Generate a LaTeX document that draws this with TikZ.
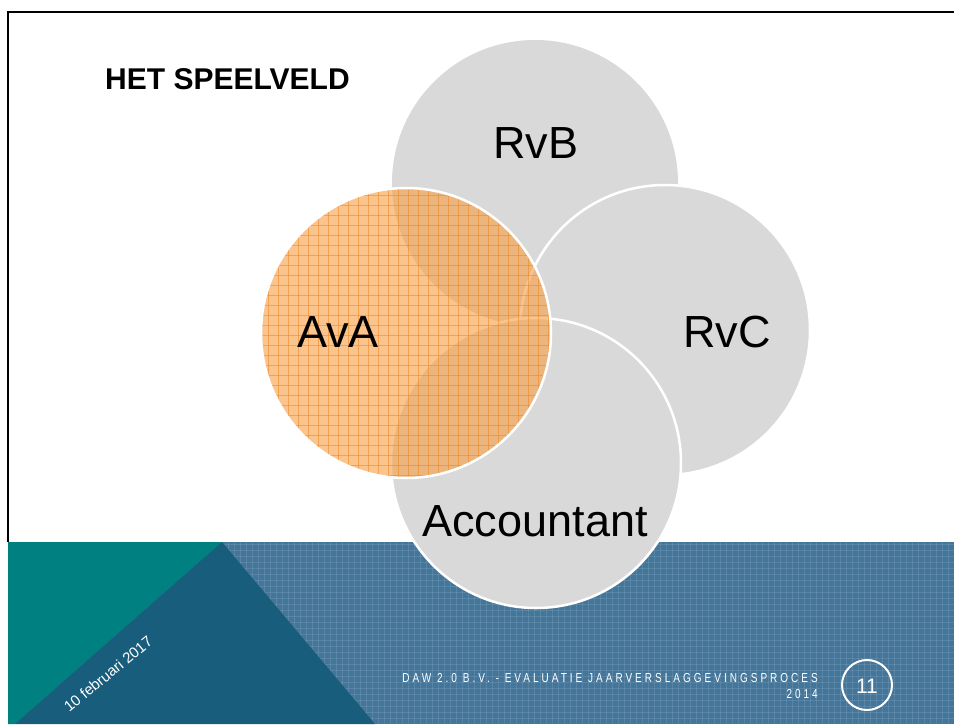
\documentclass[tikz,border=0pt]{standalone}
\usepackage{fontspec}
\setmainfont{Liberation Sans}
\definecolor{teal1}{RGB}{0,128,128}
\definecolor{dblue}{RGB}{24,94,124}
\definecolor{lblue}{RGB}{68,118,154}
\definecolor{cgray}{RGB}{217,217,217}
\definecolor{orfill}{RGB}{248,160,70}
\definecolor{orline}{RGB}{240,135,30}
\tikzset{
  circ/.style={fill=cgray, draw=white, line width=2.5pt},
  lab/.style={anchor=base, font=\fontsize{45}{54}\selectfont, text=black, inner sep=0pt},
  foot/.style={text=white, inner sep=0pt},
}
\newcommand{\foottxt}[1]{\scalebox{0.77}[1]{\fontsize{13}{16}\selectfont\addfontfeatures{LetterSpace=30}#1}}
\begin{document}
\begin{tikzpicture}[x=1pt,y=-1pt]
\useasboundingbox (0,0) rectangle (954,724);
\fill[white] (0,0) rectangle (954,724);
% frame
\draw[black, line width=2pt] (8,542) -- (8,12) -- (954,12);
% band
\fill[lblue] (8,542) rectangle (954,724);
\begin{scope}
  \clip (222,542) -- (954,542) -- (954,724) -- (375,724) -- cycle;
  \foreach \i in {0,...,124} {
    \draw[white, opacity=0.10, line width=0.6pt] (222+6*\i,542) -- (222+6*\i,724);
  }
  \foreach \i in {0,...,31} {
    \draw[white, opacity=0.10, line width=0.6pt] (222,544+6*\i) -- (954,544+6*\i);
  }
\end{scope}
\fill[teal1] (8,542) -- (222,542) -- (15,724) -- (8,724) -- cycle;
\fill[dblue] (222,542) -- (375,724) -- (15,724) -- cycle;
% circles
\fill[cgray] (535,183) circle (143);
\draw[circ] (665,330) circle (145);
\draw[circ] (536,463) circle (145);
\fill[orfill, opacity=0.62] (406,333) circle (145);
\begin{scope}
  \clip (406,333) circle (145);
  \foreach \i in {0,...,31} {
    \draw[orline, opacity=0.55, line width=0.8pt] (258+10*\i,180) -- (258+10*\i,490);
    \draw[orline, opacity=0.55, line width=0.8pt] (250,185+10*\i) -- (560,185+10*\i);
  }
\end{scope}
\draw[white, line width=2.5pt] (406,333) circle (145);
% labels
\node[lab] (rvb) at (536,158) {RvB};
\node[lab] (ava) at (338,347) {AvA};
\node[lab] (rvc) at (727,347) {RvC};
\node[lab] (acc) at (535,536) {Accountant};
\node[anchor=base west, inner sep=0pt, font=\bfseries\fontsize{30}{36}\selectfont] (title) at (105,89) {HET SPEELVELD};
% footer
\node[foot, anchor=base east] (f1) at (818,682) {\foottxt{DAW 2.0 B.V. - EVALUATIE JAARVERSLAGGEVINGSPROCES}};
\node[foot, anchor=base east] (f2) at (818,698) {\foottxt{2014}};
\draw[white, line width=2pt] (867,685) circle (25);
\node[foot, font=\fontsize{21}{24}\selectfont] (pg) at (867,686) {11};
\node[foot, rotate=39.5, font=\fontsize{15}{18}\selectfont] (date) at (108,674) {10 februari 2017};
\end{tikzpicture}
\end{document}
